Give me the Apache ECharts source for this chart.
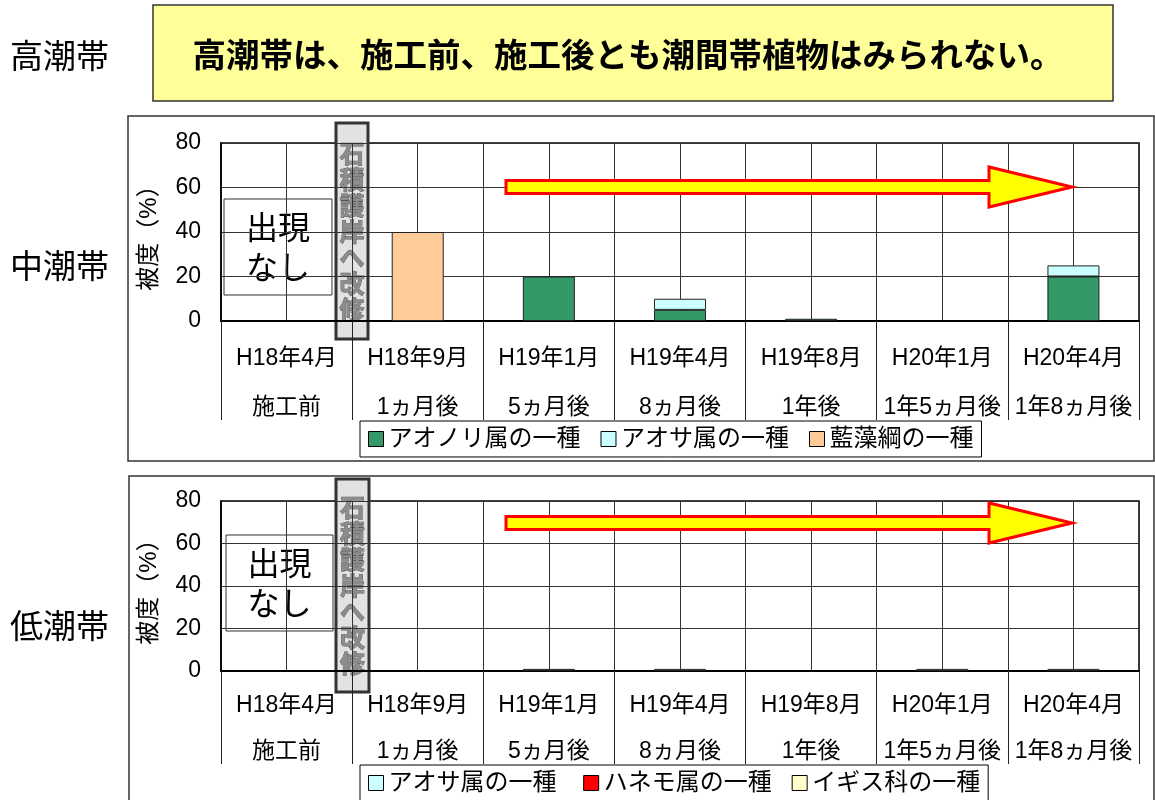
<!DOCTYPE html>
<html>
<head>
<meta charset="utf-8">
<script src="https://cdn.jsdelivr.net/npm/echarts@6/dist/echarts.min.js"></script>
<style>
  html, body { margin: 0; padding: 0; background: #fff; }
  #chart { width: 1155px; height: 800px; }
</style>
</head>
<body>
<div id="chart"></div>
<script>
// categories (two-level axis)
const months = ["H18年4月", "H18年9月", "H19年1月", "H19年4月", "H19年8月", "H20年1月", "H20年4月"];
const elapsed = ["施工前", "1ヵ月後", "5ヵ月後", "8ヵ月後", "1年後", "1年5ヵ月後", "1年8ヵ月後"];

// 中潮帯 (coverage %)
const midAonori = [null, null, 20, 5, 1, null, 20];
const midAosa = [null, null, null, 5, null, null, 5];
const midRansou = [null, 40, null, null, null, null, null];

// 低潮帯 (coverage %)
const lowAosa = [null, null, null, 1, null, null, 1];
const lowHanemo = [null, null, 1, null, null, null, null];
const lowIgisu = [null, null, null, null, null, 1, null];

const FONT = "'Liberation Sans', 'Noto Sans CJK JP', sans-serif";

function catAxis(gridIndex, gap, tickLen, margin) {
  return {
    type: "category",
    gridIndex: gridIndex,
    data: months,
    boundaryGap: true,
    axisLine: { lineStyle: { color: "#000", width: 2 } },
    axisTick: { show: true, length: tickLen, interval: 0, lineStyle: { color: "#222" } },
    axisLabel: {
      interval: 0,
      margin: margin,
      formatter: function (v, i) {
        return "{a|" + v + "}\n{a|" + elapsed[i] + "}";
      },
      rich: { a: { fontSize: 23, lineHeight: gap, color: "#000", fontFamily: FONT } }
    },
    splitLine: { show: false }
  };
}

function gridAxis(gridIndex) {
  return {
    type: "value",
    gridIndex: gridIndex,
    position: "top",
    min: 0,
    max: 14,
    interval: 1,
    axisLine: { show: false },
    axisTick: { show: false },
    axisLabel: { show: false },
    splitLine: { show: true, lineStyle: { color: "#333", width: 1 } }
  };
}

function valAxis(gridIndex) {
  return {
    type: "value",
    gridIndex: gridIndex,
    min: 0,
    max: 80,
    interval: 20,
    name: "被度（%）",
    nameLocation: "middle",
    nameGap: 60,
    nameRotate: 90,
    nameTextStyle: { fontSize: 24, color: "#000", fontFamily: FONT },
    axisLine: { show: true, lineStyle: { color: "#000", width: 1.5 } },
    axisTick: { show: false },
    axisLabel: { fontSize: 23, color: "#000", margin: 20, fontFamily: FONT },
    splitLine: { show: true, lineStyle: { color: "#333", width: 1 } }
  };
}

function bar(name, data, color, xi, yi) {
  return {
    name: name,
    type: "bar",
    stack: "s" + yi,
    xAxisIndex: xi,
    yAxisIndex: yi,
    barWidth: 52,
    data: data,
    itemStyle: { color: color, borderColor: "#222", borderWidth: 1 }
  };
}

function arrow(cy) {
  return {
    type: "polygon",
    z: 100,
    shape: {
      points: [[506, cy - 6.5], [989, cy - 6.5], [989, cy - 20], [1072, cy], [989, cy + 20], [989, cy + 6.5], [506, cy + 6.5]]
    },
    style: { fill: "#ffff00", stroke: "#ff0000", lineWidth: 3 }
  };
}

function stone(x, y, w, h) {
  return {
    type: "group",
    z: 100,
    children: [
      { type: "rect", shape: { x: x, y: y, width: w, height: h },
        style: { fill: "#e2e2e2", stroke: "#333", lineWidth: 3 } },
      { type: "text", x: x + w / 2, y: y + h / 2,
        style: { text: "石\n積\n護\n岸\nへ\n改\n修", font: "bold 25px 'Noto Sans CJK JP'",
          fill: "#8c8c8c", stroke: "#555", lineWidth: 0.8, align: "center", verticalAlign: "middle", lineHeight: 26 } }
    ]
  };
}

function noneBox(x, y, w, h) {
  return {
    type: "group",
    z: 100,
    children: [
      { type: "rect", shape: { x: x, y: y, width: w, height: h },
        style: { fill: "#fff", stroke: "#333", lineWidth: 1 } },
      { type: "text", x: x + w / 2, y: y + h / 2,
        style: { text: "出現\nなし", font: "32px 'Noto Sans CJK JP'", fill: "#000",
          align: "center", verticalAlign: "middle", lineHeight: 40 } }
    ]
  };
}

function sideLabel(text, y) {
  return {
    type: "text", x: 10, y: y, z: 100,
    style: { text: text, font: "33px 'Noto Sans CJK JP'", fill: "#000", verticalAlign: "middle" }
  };
}

function legendOf(names, top) {
  return {
    data: names,
    left: 360, top: top,
    icon: "rect", itemWidth: 15, itemHeight: 15, itemGap: 20,
    padding: [6, 8, 6, 8],
    borderColor: "#000", borderWidth: 1,
    itemStyle: { borderColor: "#000", borderWidth: 1 },
    textStyle: { fontSize: 24, color: "#000", fontFamily: FONT }
  };
}

let myChart = echarts.init(document.getElementById("chart")),
  option;

option = {
  backgroundColor: "#fff",
  animation: false,
  grid: [
    { left: 221, top: 143, width: 918, height: 178, show: true, borderColor: "#000", borderWidth: 1.5, backgroundColor: "transparent" },
    { left: 221, top: 501, width: 918, height: 170, show: true, borderColor: "#000", borderWidth: 1.5, backgroundColor: "transparent" }
  ],
  xAxis: [catAxis(0, 49, 99, 13), gridAxis(0), catAxis(1, 46, 93, 12), gridAxis(1)],
  yAxis: [valAxis(0), valAxis(1)],
  legend: [
    legendOf(["アオノリ属の一種", "アオサ属の一種", "藍藻綱の一種"], 421),
    legendOf(["アオサ属の一種 ", "ハネモ属の一種", "イギス科の一種"], 765)
  ],
  series: [
    bar("アオノリ属の一種", midAonori, "#339966", 0, 0),
    bar("アオサ属の一種", midAosa, "#ccffff", 0, 0),
    bar("藍藻綱の一種", midRansou, "#ffcc99", 0, 0),
    bar("アオサ属の一種 ", lowAosa, "#ccffff", 2, 1),
    bar("ハネモ属の一種", lowHanemo, "#ff0000", 2, 1),
    bar("イギス科の一種", lowIgisu, "#ffffcc", 2, 1)
  ],
  graphic: [
    { type: "rect", z: -1, shape: { x: 128, y: 116, width: 1026, height: 345 },
      style: { fill: "none", stroke: "#333", lineWidth: 1.5 } },
    { type: "rect", z: -1, shape: { x: 129, y: 476, width: 1025, height: 340 },
      style: { fill: "none", stroke: "#333", lineWidth: 1.5 } },
    { type: "rect", z: 100, shape: { x: 153, y: 5, width: 960, height: 96 },
      style: { fill: "#ffff99", stroke: "#333", lineWidth: 1.5 } },
    { type: "text", z: 101, x: 628, y: 54,
      style: { text: "高潮帯は、施工前、施工後とも潮間帯植物はみられない。",
        font: "bold 33.5px 'Noto Sans CJK JP'", fill: "#000", align: "center", verticalAlign: "middle",
        shadowColor: "rgba(0,0,0,0.45)", shadowOffsetX: 2, shadowOffsetY: 2 } },
    sideLabel("高潮帯", 55),
    sideLabel("中潮帯", 265),
    sideLabel("低潮帯", 625),
    arrow(187),
    arrow(523),
    stone(336, 123, 32, 216),
    stone(336, 479, 33, 213),
    noneBox(224, 199, 108, 96),
    noneBox(226, 535, 107, 96)
  ]
};

if (option && typeof option === "object") myChart.setOption(option);
window.addEventListener("resize", function () {
  myChart.resize();
});
</script>
</body>
</html>
